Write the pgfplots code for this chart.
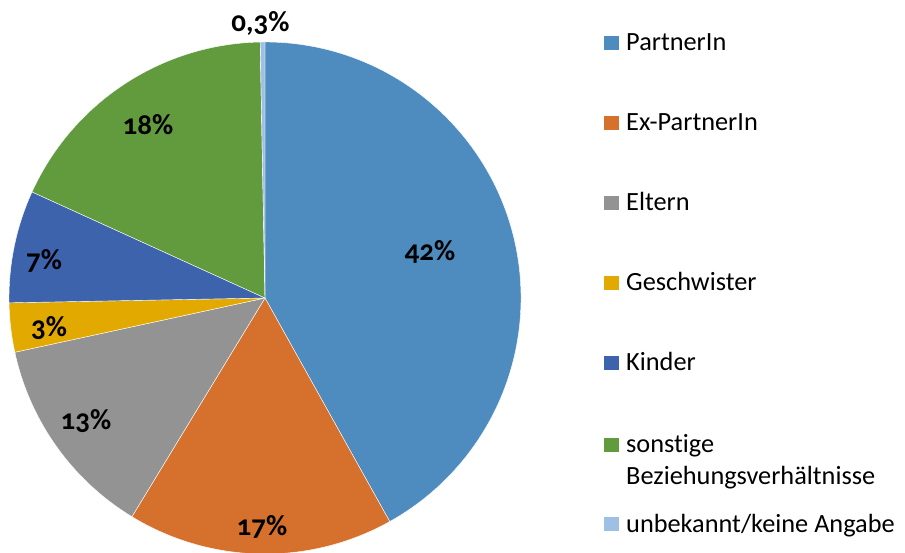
\documentclass[border=0pt]{standalone}
\usepackage{pgfplots}
\usepackage{pgfplotstable}
\pgfplotsset{compat=1.18}
\usepackage{fontspec}
\setmainfont{Carlito}[Numbers=OldStyle, Ligatures={NoCommon}]
\definecolor{cPartner}{HTML}{4E8BBF}
\definecolor{cEx}{HTML}{D5702D}
\definecolor{cEltern}{HTML}{939393}
\definecolor{cGesch}{HTML}{E2A900}
\definecolor{cKinder}{HTML}{3D63AD}
\definecolor{cSonst}{HTML}{629A3E}
\definecolor{cUnb}{HTML}{9EC0E4}
\pgfplotstableread{
value color
41.9 cPartner
16.8 cEx
12.9 cEltern
3.1 cGesch
7.1 cKinder
17.9 cSonst
0.3 cUnb
}\piedata
\begin{document}
\begin{tikzpicture}
\begin{axis}[hide axis, scale only axis, width=905bp, height=553bp,
  xmin=0, xmax=905, ymin=0, ymax=553, clip=false]
\pgfplotstablegetrowsof{\piedata}
\pgfmathtruncatemacro\lastrow{\pgfplotsretval-1}
\def\angstart{90}
\pgfplotsforeachungrouped \i in {0,...,\lastrow}{%
  \pgfplotstablegetelem{\i}{value}\of\piedata \let\sliceval=\pgfplotsretval
  \pgfplotstablegetelem{\i}{color}\of\piedata \let\slicecol=\pgfplotsretval
  \pgfmathsetmacro\angend{\angstart-3.6*\sliceval}%
  \edef\temp{\noexpand\fill[\slicecol, draw=white, line width=0.4bp] (axis cs:265,255) -- ++(\angstart:256bp) arc[start angle=\angstart, end angle=\angend, radius=256bp] -- cycle;}%
  \temp
  \global\let\angstart=\angend
}
% slice labels
\begin{scope}[every node/.style={font=\fontsize{29bp}{33bp}\selectfont\bfseries, anchor=base, inner sep=0pt}]
\node at (axis cs:430,292) {42\%};
\node at (axis cs:262,18) {17\%};
\node at (axis cs:86,123) {13\%};
\node at (axis cs:49,216) {3\%};
\node at (axis cs:44,283) {7\%};
\node at (axis cs:148,418) {18\%};
\node at (axis cs:260.5,521) {0,3\%};
\end{scope}
% legend
\begin{scope}[every node/.style={font=\fontsize{26.3bp}{30bp}\selectfont, anchor=base west, inner sep=0pt}]
\fill[cPartner] (axis cs:604,502.5) rectangle (axis cs:619,517);
\node at (axis cs:626,502) {PartnerIn};
\fill[cEx] (axis cs:604,422.5) rectangle (axis cs:619,437);
\node at (axis cs:626,422) {Ex-PartnerIn};
\fill[cEltern] (axis cs:604,342.5) rectangle (axis cs:619,357);
\node at (axis cs:626,342) {Eltern};
\fill[cGesch] (axis cs:604,262.5) rectangle (axis cs:619,277);
\node at (axis cs:626,262) {Geschwister};
\fill[cKinder] (axis cs:604,182.5) rectangle (axis cs:619,197);
\node at (axis cs:626,182) {Kinder};
\fill[cSonst] (axis cs:604,100.5) rectangle (axis cs:619,115);
\node at (axis cs:626,100) {sonstige};
\node at (axis cs:626,68) {Beziehungsverhältnisse};
\fill[cUnb] (axis cs:604,21.5) rectangle (axis cs:619,36);
\node at (axis cs:626,21) {unbekannt/keine Angabe};
\end{scope}
\end{axis}
\pgfresetboundingbox
\path (0,0) rectangle (905bp,553bp);
\end{tikzpicture}
\end{document}
